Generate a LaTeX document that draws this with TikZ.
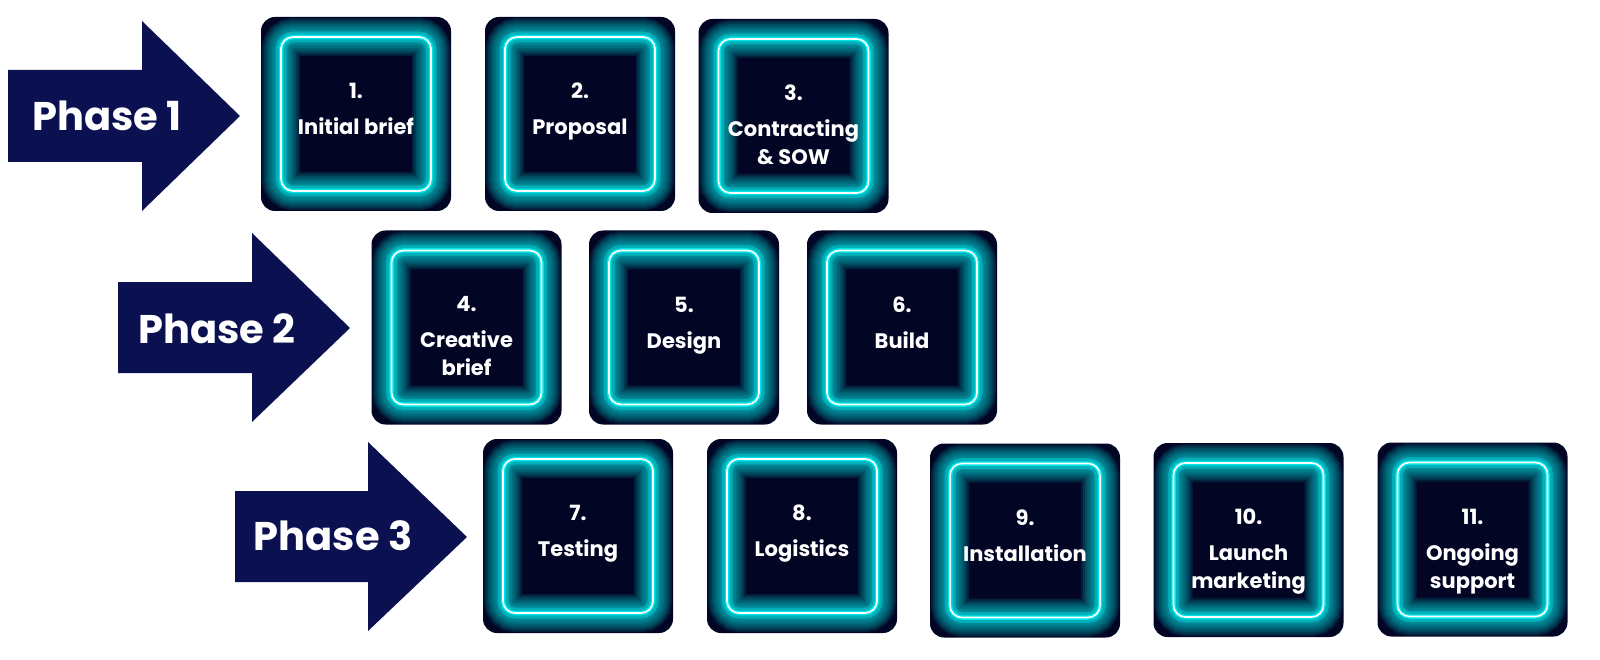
\documentclass[tikz,border=0pt]{standalone}
\usepackage{fontspec}
\setmainfont{Poppins}
\definecolor{navy}{RGB}{11,17,80}
\definecolor{boxbg}{RGB}{3,5,36}
\definecolor{neon}{RGB}{0,228,230}
\tikzset{
  phasearrow/.style={fill=navy},
  phasetxt/.style={text=white, font=\fontsize{40}{48}\selectfont\bfseries, inner sep=0pt, anchor=base},
  boxbase/.style={rectangle, rounded corners=14pt, fill=boxbg, minimum width=190pt, minimum height=194pt, inner sep=0pt, outer sep=0pt},
  steptxt/.style={text=white, font=\fontsize{21}{28}\selectfont\bfseries, align=center, inner sep=0pt, anchor=north},
  neonline/.style={rounded corners=12pt},
}
\newcommand\neonbox[5]{%
  \node[boxbase] (#1) at (#2,#3) {};
  \begin{scope}
    \clip[rounded corners=14pt] (#1.north west) rectangle (#1.south east);
    \foreach \w in {38,34,...,6}
      \draw[neon, line width=\w pt, opacity=0.12, neonline] ([shift={(20,20)}]#1.north west) rectangle ([shift={(-20,-20)}]#1.south east);
    \draw[neon, line width=11pt, opacity=0.35, neonline] ([shift={(20,20)}]#1.north west) rectangle ([shift={(-20,-20)}]#1.south east);
  \end{scope}
  \draw[neon, line width=4.5pt, neonline] ([shift={(20,20)}]#1.north west) rectangle ([shift={(-20,-20)}]#1.south east);
  \draw[white, line width=1.6pt, neonline] ([shift={(20,20)}]#1.north west) rectangle ([shift={(-20,-20)}]#1.south east);
  \node[steptxt] (#1t) at ([shift={(0,66)}]#1.north) {#4\\[8pt]#5};
}
\begin{document}
\begin{tikzpicture}[x=1pt,y=-1pt]
\useasboundingbox (0,0) rectangle (1600,660);
\fill[white] (0,0) rectangle (1600,660);
% phase arrows
\fill[phasearrow] (8,70) -- (142,70) -- (142,21) -- (240,116) -- (142,211) -- (142,162) -- (8,162) -- cycle;
\fill[phasearrow] (118,282) -- (252,282) -- (252,233) -- (350,328) -- (252,422) -- (252,373) -- (118,373) -- cycle;
\fill[phasearrow] (235,491) -- (368,491) -- (368,442) -- (467,537) -- (368,631) -- (368,582) -- (235,582) -- cycle;
\node[phasetxt] (p1) at (107,131) {Phase 1};
\node[phasetxt] (p2) at (217,343) {Phase 2};
\node[phasetxt] (p3) at (333,550) {Phase 3};
% step boxes
\neonbox{b1}{356}{114}{1.}{Initial brief}
\neonbox{b2}{580}{114}{2.}{Proposal}
\neonbox{b3}{793.5}{116}{3.}{Contracting\\\& SOW}
\neonbox{b4}{466.5}{327.5}{4.}{Creative\\brief}
\neonbox{b5}{684}{327.5}{5.}{Design}
\neonbox{b6}{902}{327.5}{6.}{Build}
\neonbox{b7}{578}{536}{7.}{Testing}
\neonbox{b8}{802}{536}{8.}{Logistics}
\neonbox{b9}{1025}{540.5}{9.}{Installation}
\neonbox{b10}{1248.5}{540}{10.}{Launch\\marketing}
\neonbox{b11}{1472.5}{539.5}{11.}{Ongoing\\support}
\end{tikzpicture}
\end{document}
